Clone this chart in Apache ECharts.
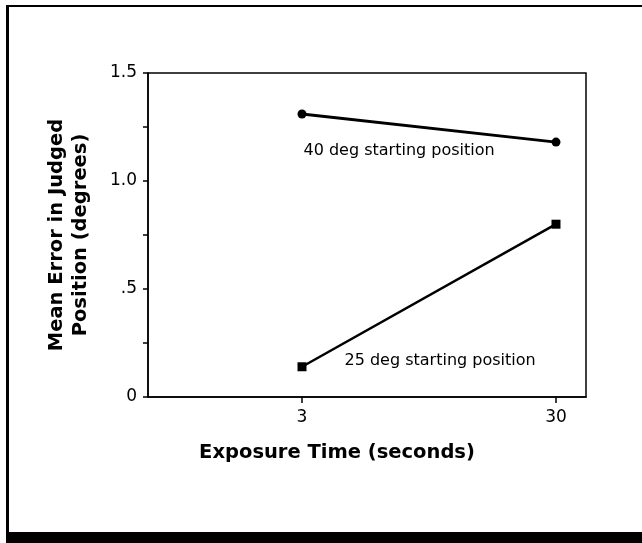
<!DOCTYPE html>
<html>
<head>
<meta charset="utf-8">
<script src="https://cdn.jsdelivr.net/npm/echarts@6/dist/echarts.min.js"></script>
<style>
html,body{margin:0;padding:0;background:#fff;}
#chart{width:642px;height:543px;}
</style>
</head>
<body>
<div id="chart"></div>
<script>
// ---- data ----
const exposureTimes = [3, 30];               // seconds
const err40 = [1.31, 1.18];                  // 40 deg starting position
const err25 = [0.14, 0.80];                  // 25 deg starting position
const seriesNames = ['40 deg starting position', '25 deg starting position'];
const xTickValues = [3, 30];
const yTickLabels = {0: '0', 0.5: '.5', 1: '1.0', 1.5: '1.5'};

const chart = echarts.init(document.getElementById('chart'), null, {renderer: 'canvas'});

function buildData(vals, labelOpt) {
  return exposureTimes.map((t, i) => {
    const item = {value: [t, vals[i]]};
    if (i === 0) item.label = labelOpt;
    return item;
  });
}

const labelFont = {fontFamily: 'DejaVu Sans', fontSize: 16, color: '#000'};

chart.setOption({
  animation: false,
  backgroundColor: '#fff',
  grid: {left: 148, right: 56, top: 73, bottom: 146, show: true, borderColor: '#000', borderWidth: 1.5, backgroundColor: 'transparent'},
  xAxis: {
    type: 'value',
    min: -13.37, max: 33.19,
    axisLine: {show: true, onZero: false, lineStyle: {color: '#000', width: 1.5}},
    axisTick: {show: true, customValues: xTickValues, length: 6, lineStyle: {color: '#000', width: 1.5}},
    axisLabel: {show: true, customValues: xTickValues, margin: 12, fontFamily: 'DejaVu Sans', fontSize: 17, color: '#000'},
    splitLine: {show: false}
  },
  yAxis: {
    type: 'value',
    min: 0, max: 1.5, interval: 0.25,
    name: 'Mean Error in Judged\nPosition (degrees)',
    nameLocation: 'middle',
    nameGap: 55,
    nameTextStyle: {fontFamily: 'DejaVu Sans', fontWeight: 'bold', fontSize: 19.5, color: '#000', lineHeight: 24},
    axisLine: {show: true, onZero: false, lineStyle: {color: '#000', width: 1.5}},
    axisTick: {show: true, length: 5, lineStyle: {color: '#000', width: 1.5}},
    axisLabel: {
      margin: 11, fontFamily: 'DejaVu Sans', fontSize: 17, color: '#000',
      formatter: v => (yTickLabels[v] !== undefined ? yTickLabels[v] : '')
    },
    splitLine: {show: false}
  },
  series: [
    {
      name: seriesNames[0], type: 'line',
      symbol: 'circle', symbolSize: 9,
      lineStyle: {color: '#000', width: 3},
      itemStyle: {color: '#000'},
      data: buildData(err40, Object.assign({show: true, position: 'right', distance: 0, offset: [-3, 37], formatter: seriesNames[0]}, labelFont))
    },
    {
      name: seriesNames[1], type: 'line',
      symbol: 'rect', symbolSize: 9,
      lineStyle: {color: '#000', width: 2.5},
      itemStyle: {color: '#000'},
      data: buildData(err25, Object.assign({show: true, position: 'right', distance: 0, offset: [38, -6], formatter: seriesNames[1]}, labelFont))
    }
  ],
  graphic: [
    {type: 'rect', shape: {x: 6, y: 5, width: 3, height: 538}, style: {fill: '#000'}, silent: true},
    {type: 'rect', shape: {x: 6, y: 5, width: 636, height: 2}, style: {fill: '#000'}, silent: true},
    {type: 'rect', shape: {x: 6, y: 532, width: 636, height: 11}, style: {fill: '#000'}, silent: true},
    {type: 'text', x: 337, y: 453, silent: true,
      style: {text: 'Exposure Time (seconds)', fontFamily: 'DejaVu Sans', fontWeight: 'bold', fontSize: 19.5, fill: '#000', textAlign: 'center', textVerticalAlign: 'middle'}}
  ]
});
</script>
</body>
</html>
